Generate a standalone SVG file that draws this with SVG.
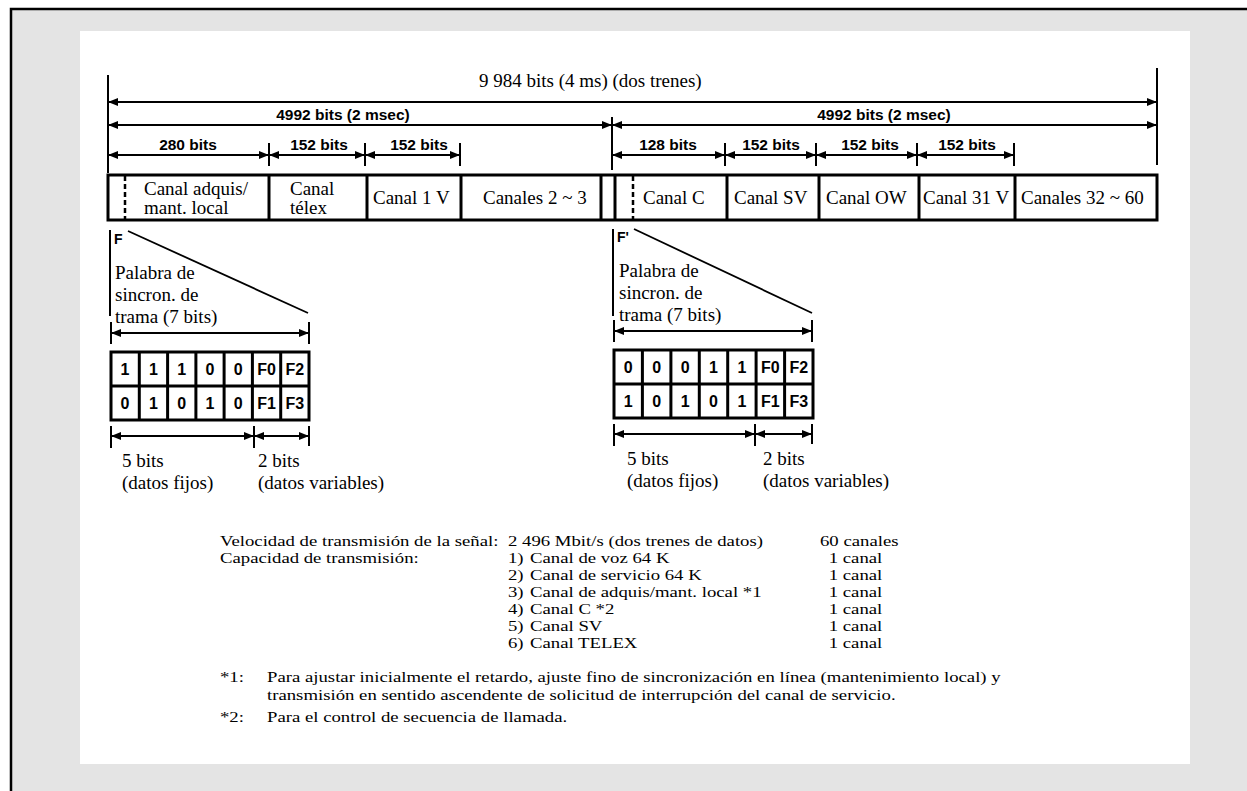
<svg xmlns="http://www.w3.org/2000/svg" width="1247" height="791" viewBox="0 0 1247 791">
<defs>
<style>
.s{font-family:"Liberation Serif","Times New Roman",serif;font-size:19px;fill:#000}
.n{font-family:"Liberation Serif","Times New Roman",serif;font-size:15px;fill:#000}
.b{font-family:"Liberation Sans",Arial,sans-serif;font-weight:bold;font-size:15.5px;fill:#000}
.c{font-family:"Liberation Sans",Arial,sans-serif;font-weight:bold;font-size:16px;fill:#000;text-anchor:middle}
.m{text-anchor:middle}
.ln{stroke:#000;stroke-width:1.8;fill:none}
.ar{stroke:#000;stroke-width:1.8;fill:none;marker-start:url(#ah);marker-end:url(#ah)}
.tk{stroke:#000;stroke-width:2;fill:none}
.box{stroke:#000;stroke-width:3;fill:#fff}
.dv{stroke:#000;stroke-width:3;fill:none}
.ds{stroke:#000;stroke-width:2.5;fill:none;stroke-dasharray:5 3}
</style>
<marker id="ah" viewBox="0 0 10 8" markerUnits="userSpaceOnUse" markerWidth="10" markerHeight="8" refX="10" refY="4" orient="auto-start-reverse">
<path d="M0,0 L10,4 L0,8 z" fill="#000"/>
</marker>
</defs>
<rect x="0" y="0" width="1247" height="791" fill="#fff"/>
<rect x="11" y="9" width="1250" height="800" fill="#e4e4e4" stroke="#000" stroke-width="2.5"/>
<rect x="80" y="31" width="1110" height="733" fill="#fff"/>

<g id="connectors">
<line class="tk" x1="108" y1="75" x2="108" y2="173"/>
<line class="tk" x1="1157" y1="68" x2="1157" y2="165"/>
<line class="tk" x1="612" y1="117" x2="612" y2="170"/>
<line class="ar" x1="108" y1="102" x2="1157" y2="102"/>
<line class="ar" x1="108" y1="125" x2="612" y2="125"/>
<line class="ar" x1="612" y1="125" x2="1157" y2="125"/>
<line class="tk" x1="269" y1="143" x2="269" y2="166"/>
<line class="tk" x1="365" y1="143" x2="365" y2="166"/>
<line class="tk" x1="460" y1="143" x2="460" y2="166"/>
<line class="tk" x1="725" y1="143" x2="725" y2="166"/>
<line class="tk" x1="816" y1="143" x2="816" y2="166"/>
<line class="tk" x1="917" y1="143" x2="917" y2="166"/>
<line class="tk" x1="1014" y1="143" x2="1014" y2="166"/>
<line class="ar" x1="108" y1="155" x2="269" y2="155"/>
<line class="ar" x1="269" y1="155" x2="365" y2="155"/>
<line class="ar" x1="365" y1="155" x2="460" y2="155"/>
<line class="ar" x1="612" y1="155" x2="725" y2="155"/>
<line class="ar" x1="725" y1="155" x2="816" y2="155"/>
<line class="ar" x1="816" y1="155" x2="917" y2="155"/>
<line class="ar" x1="917" y1="155" x2="1014" y2="155"/>
<!-- left frame word -->
<line class="tk" x1="110" y1="230" x2="110" y2="316"/>
<line class="ln" x1="128" y1="231" x2="308" y2="313"/>
<line class="tk" x1="111" y1="322" x2="111" y2="344"/>
<line class="tk" x1="309" y1="322" x2="309" y2="344"/>
<line class="ar" x1="111" y1="333" x2="309" y2="333"/>
<line class="tk" x1="111" y1="426" x2="111" y2="448"/>
<line class="tk" x1="254" y1="426" x2="254" y2="448"/>
<line class="tk" x1="309" y1="426" x2="309" y2="446"/>
<line class="ar" x1="111" y1="436" x2="254" y2="436"/>
<line class="ar" x1="254" y1="436" x2="309" y2="436"/>
<!-- right frame word -->
<line class="tk" x1="613" y1="229" x2="613" y2="316"/>
<line class="ln" x1="634" y1="229" x2="812" y2="313"/>
<line class="tk" x1="614" y1="320" x2="614" y2="342"/>
<line class="tk" x1="812" y1="320" x2="812" y2="342"/>
<line class="ar" x1="614" y1="331" x2="812" y2="331"/>
<line class="tk" x1="614" y1="424" x2="614" y2="446"/>
<line class="tk" x1="755" y1="424" x2="755" y2="446"/>
<line class="tk" x1="812" y1="424" x2="812" y2="444"/>
<line class="ar" x1="614" y1="434" x2="755" y2="434"/>
<line class="ar" x1="755" y1="434" x2="812" y2="434"/>
</g>

<g id="labels-top">
<text class="s" x="479" y="87">9 984 bits (4 ms) (dos trenes)</text>
<text class="b m" x="343" y="120">4992 bits (2 msec)</text>
<text class="b m" x="884" y="120">4992 bits (2 msec)</text>
<text class="b m" x="188" y="150">280 bits</text>
<text class="b m" x="319" y="150">152 bits</text>
<text class="b m" x="419" y="150">152 bits</text>
<text class="b m" x="668" y="150">128 bits</text>
<text class="b m" x="771" y="150">152 bits</text>
<text class="b m" x="870" y="150">152 bits</text>
<text class="b m" x="967" y="150">152 bits</text>
</g>

<g id="frame-bar">
<rect class="box" x="108" y="175" width="1049" height="45"/>
<line class="ds" x1="125" y1="176" x2="125" y2="219"/>
<line class="dv" x1="269" y1="175" x2="269" y2="220"/>
<line class="dv" x1="367" y1="175" x2="367" y2="220"/>
<line class="dv" x1="461" y1="175" x2="461" y2="220"/>
<line class="dv" x1="601" y1="175" x2="601" y2="220"/>
<line class="dv" x1="615" y1="175" x2="615" y2="220"/>
<line class="ds" x1="633" y1="176" x2="633" y2="219"/>
<line class="dv" x1="727" y1="175" x2="727" y2="220"/>
<line class="dv" x1="819" y1="175" x2="819" y2="220"/>
<line class="dv" x1="919" y1="175" x2="919" y2="220"/>
<line class="dv" x1="1015" y1="175" x2="1015" y2="220"/>
<text class="s" x="144" y="195">Canal adquis/</text>
<text class="s" x="144" y="214">mant. local</text>
<text class="s" x="290" y="195">Canal</text>
<text class="s" x="290" y="214">télex</text>
<text class="s" x="373" y="204">Canal 1 V</text>
<text class="s" x="483" y="204">Canales 2 ~ 3</text>
<text class="s" x="643" y="204">Canal C</text>
<text class="s" x="734" y="204">Canal SV</text>
<text class="s" x="826" y="204">Canal OW</text>
<text class="s" x="923" y="204">Canal 31 V</text>
<text class="s" x="1021" y="204">Canales 32 ~ 60</text>
</g>

<g id="sync-left">
<text class="b" x="114" y="244" style="font-size:14px">F</text>
<text class="s" x="115" y="279">Palabra de</text>
<text class="s" x="115" y="301">sincron. de</text>
<text class="s" x="115" y="323">trama (7 bits)</text>
<rect class="box" x="111" y="352" width="198" height="68"/>
<line class="dv" x1="111" y1="386" x2="309" y2="386"/>
<line class="dv" x1="139.3" y1="352" x2="139.3" y2="420"/>
<line class="dv" x1="167.6" y1="352" x2="167.6" y2="420"/>
<line class="dv" x1="195.9" y1="352" x2="195.9" y2="420"/>
<line class="dv" x1="224.1" y1="352" x2="224.1" y2="420"/>
<line class="dv" x1="252.4" y1="352" x2="252.4" y2="420"/>
<line class="dv" x1="280.7" y1="352" x2="280.7" y2="420"/>
<text class="c" x="125" y="375">1</text><text class="c" x="153.5" y="375">1</text><text class="c" x="181.8" y="375">1</text><text class="c" x="210" y="375">0</text><text class="c" x="238.3" y="375">0</text><text class="c" x="266.5" y="375">F0</text><text class="c" x="294.8" y="375">F2</text>
<text class="c" x="125" y="409">0</text><text class="c" x="153.5" y="409">1</text><text class="c" x="181.8" y="409">0</text><text class="c" x="210" y="409">1</text><text class="c" x="238.3" y="409">0</text><text class="c" x="266.5" y="409">F1</text><text class="c" x="294.8" y="409">F3</text>
<text class="s" x="122" y="467">5 bits</text>
<text class="s" x="122" y="489">(datos fijos)</text>
<text class="s" x="258" y="467">2 bits</text>
<text class="s" x="258" y="489">(datos variables)</text>
</g>

<g id="sync-right">
<text class="b" x="617" y="242" style="font-size:14px">F'</text>
<text class="s" x="619" y="277">Palabra de</text>
<text class="s" x="619" y="299">sincron. de</text>
<text class="s" x="619" y="321">trama (7 bits)</text>
<rect class="box" x="614" y="350" width="199" height="68"/>
<line class="dv" x1="614" y1="384" x2="813" y2="384"/>
<line class="dv" x1="642.4" y1="350" x2="642.4" y2="418"/>
<line class="dv" x1="670.9" y1="350" x2="670.9" y2="418"/>
<line class="dv" x1="699.3" y1="350" x2="699.3" y2="418"/>
<line class="dv" x1="727.7" y1="350" x2="727.7" y2="418"/>
<line class="dv" x1="756.1" y1="350" x2="756.1" y2="418"/>
<line class="dv" x1="784.6" y1="350" x2="784.6" y2="418"/>
<text class="c" x="628.2" y="373">0</text><text class="c" x="656.6" y="373">0</text><text class="c" x="685.1" y="373">0</text><text class="c" x="713.5" y="373">1</text><text class="c" x="741.9" y="373">1</text><text class="c" x="770.4" y="373">F0</text><text class="c" x="798.8" y="373">F2</text>
<text class="c" x="628.2" y="407">1</text><text class="c" x="656.6" y="407">0</text><text class="c" x="685.1" y="407">1</text><text class="c" x="713.5" y="407">0</text><text class="c" x="741.9" y="407">1</text><text class="c" x="770.4" y="407">F1</text><text class="c" x="798.8" y="407">F3</text>
<text class="s" x="627" y="465">5 bits</text>
<text class="s" x="627" y="487">(datos fijos)</text>
<text class="s" x="763" y="465">2 bits</text>
<text class="s" x="763" y="487">(datos variables)</text>
</g>

<g id="notes" transform="scale(1.25 1)">
<text class="n" x="176" y="546">Velocidad de transmisión de la señal:</text>
<text class="n" x="406.4" y="546">2 496 Mbit/s (dos trenes de datos)</text>
<text class="n" x="656" y="546">60 canales</text>
<text class="n" x="176" y="563">Capacidad de transmisión:</text>
<text class="n" x="406.4" y="563">1)</text><text class="n" x="424" y="563">Canal de voz 64 K</text><text class="n" x="663" y="563">1 canal</text>
<text class="n" x="406.4" y="580">2)</text><text class="n" x="424" y="580">Canal de servicio 64 K</text><text class="n" x="663" y="580">1 canal</text>
<text class="n" x="406.4" y="597">3)</text><text class="n" x="424" y="597">Canal de adquis/mant. local *1</text><text class="n" x="663" y="597">1 canal</text>
<text class="n" x="406.4" y="614">4)</text><text class="n" x="424" y="614">Canal C *2</text><text class="n" x="663" y="614">1 canal</text>
<text class="n" x="406.4" y="631">5)</text><text class="n" x="424" y="631">Canal SV</text><text class="n" x="663" y="631">1 canal</text>
<text class="n" x="406.4" y="648">6)</text><text class="n" x="424" y="648">Canal TELEX</text><text class="n" x="663" y="648">1 canal</text>
<text class="n" x="176" y="682">*1:</text>
<text class="n" x="213.6" y="682">Para ajustar inicialmente el retardo, ajuste fino de sincronización en línea (mantenimiento local) y</text>
<text class="n" x="213.6" y="700">transmisión en sentido ascendente de solicitud de interrupción del canal de servicio.</text>
<text class="n" x="176" y="722">*2:</text>
<text class="n" x="213.6" y="722">Para el control de secuencia de llamada.</text>
</g>
</svg>
